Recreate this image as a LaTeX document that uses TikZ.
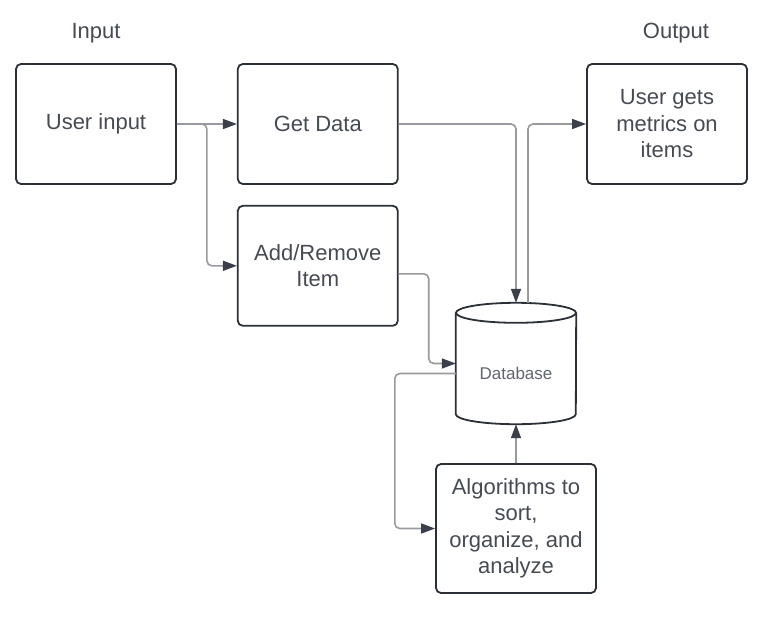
\documentclass[tikz,border=0pt]{standalone}
\usepackage{fontspec}
\setmainfont{Liberation Sans}
\usetikzlibrary{arrows.meta, positioning, calc}
\definecolor{boxline}{HTML}{2B2F36}
\definecolor{wire}{HTML}{979A9F}
\definecolor{tipdark}{HTML}{3A3F4A}
\definecolor{txt}{HTML}{464B53}

\begin{document}
\begin{tikzpicture}[
    x=1pt, y=-1pt,
    node distance=20pt,
    itembox/.style={draw=boxline, line width=1.8pt, rounded corners=5pt,
                    minimum width=160pt, minimum height=120pt, inner sep=4pt,
                    align=center, text=txt, font=\fontsize{22}{26.5}\selectfont},
    heading/.style={text=txt, font=\fontsize{22}{26.5}\selectfont},
    conn/.style={draw=wire, line width=1.6pt, rounded corners=5pt,
                 -{Triangle[length=14pt, width=10pt, color=tipdark]}},
    plain/.style={draw=wire, line width=1.6pt, rounded corners=5pt}
]
\useasboundingbox (0,0) rectangle (760,616);

% headings
\node[heading] (inlbl) at (96,33) {Input};
\node[heading] (outlbl) at (676,33) {Output};

% boxes
\node[itembox] (ui) at (96,124) {User input};
\node[itembox, right=60pt of ui] (gd) {Get Data};
\node[itembox, below=of gd] (ar) {Add/Remove\\Item};
\node[itembox] (om) at (667,124) {User gets\\metrics on\\items};
\node[itembox, minimum height=129pt] (al) at (516,528.5) {Algorithms to\\sort,\\organize, and\\analyze};

% database cylinder
\node[minimum width=120pt, minimum height=121pt, inner sep=0pt] (db) at (516,363.5) {};
\draw[boxline, line width=1.8pt, fill=white]
    ([yshift=-10pt]db.north west) -- ([yshift=10pt]db.south west)
    arc[start angle=180, end angle=360, x radius=60pt, y radius=10pt]
    -- ([yshift=-10pt]db.north east);
\draw[boxline, line width=1.8pt] ([yshift=-10pt]db.north) ellipse [x radius=60pt, y radius=10pt];
\node[text=txt!85, font=\fontsize{17}{20}\selectfont] (dbtext) at ([yshift=-10pt]db.center) {Database};

% connectors
\draw[conn] (ui.east) -- (gd.west);
\draw[conn] (ui.east) -- ([xshift=30pt]ui.east) |- (ar.west);
\draw[conn] (gd.east) -| (db.north);
\draw[conn] ([xshift=12pt]db.north) |- (om.west);
\draw[conn] ([yshift=-8pt]ar.east) -- ++(30,0) |- (db.west);
\draw[conn] ([yshift=-10pt]db.west) -- ++(-61,0) |- (al.west);
\draw[conn] (al.north) -- (db.south);
\end{tikzpicture}
\end{document}
